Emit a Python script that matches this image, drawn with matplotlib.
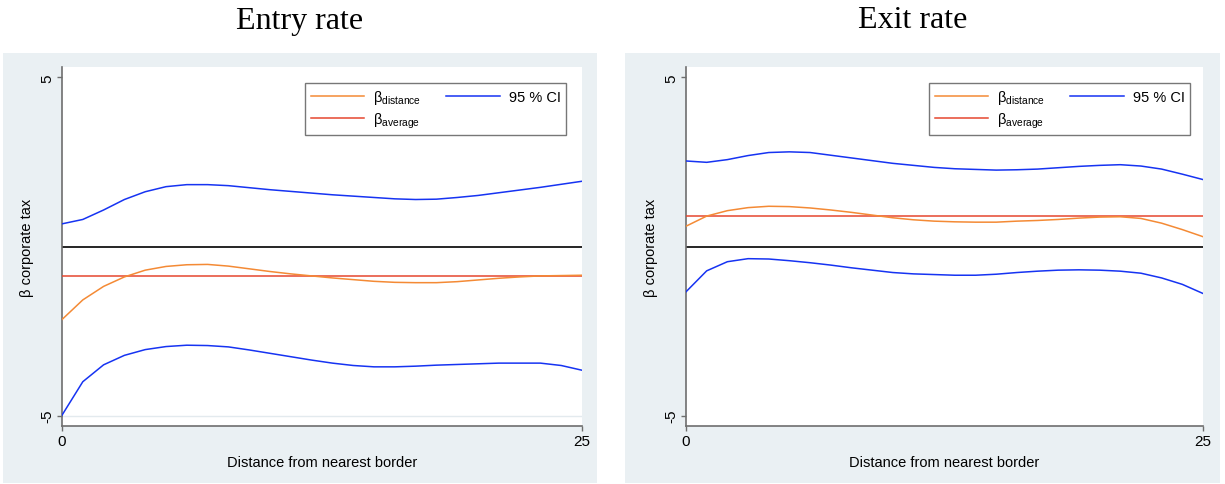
import matplotlib
matplotlib.use("Agg")
import matplotlib.pyplot as plt
from matplotlib.patches import Rectangle
import numpy as np

# ---------------- data ----------------
distance = list(range(0, 26))

entry_upper = [0.67, 0.80, 1.08, 1.39, 1.62, 1.77, 1.83, 1.83, 1.80, 1.74, 1.68, 1.63, 1.58,
               1.53, 1.49, 1.45, 1.41, 1.39, 1.40, 1.45, 1.51, 1.59, 1.67, 1.75, 1.84, 1.93]
entry_beta = [-2.16, -1.58, -1.18, -0.90, -0.70, -0.59, -0.54, -0.53, -0.58, -0.66, -0.74, -0.81, -0.87,
              -0.93, -0.98, -1.03, -1.06, -1.07, -1.07, -1.04, -0.99, -0.94, -0.90, -0.87, -0.86, -0.85]
entry_lower = [-4.99, -4.00, -3.50, -3.22, -3.05, -2.96, -2.92, -2.93, -2.97, -3.06, -3.16, -3.26, -3.36,
               -3.45, -3.52, -3.56, -3.56, -3.54, -3.51, -3.49, -3.47, -3.45, -3.45, -3.45, -3.52, -3.66]
entry_avg = -0.86

exit_upper = [2.53, 2.49, 2.57, 2.69, 2.78, 2.80, 2.78, 2.70, 2.62, 2.54, 2.46, 2.40, 2.34,
              2.30, 2.28, 2.26, 2.27, 2.29, 2.33, 2.37, 2.40, 2.42, 2.38, 2.29, 2.14, 1.98]
exit_beta = [0.60, 0.90, 1.06, 1.15, 1.19, 1.18, 1.14, 1.08, 1.01, 0.93, 0.85, 0.79, 0.75,
             0.73, 0.72, 0.72, 0.75, 0.77, 0.80, 0.84, 0.87, 0.88, 0.83, 0.69, 0.50, 0.29]
exit_lower = [-1.34, -0.72, -0.45, -0.36, -0.37, -0.42, -0.48, -0.55, -0.63, -0.70, -0.77, -0.81, -0.83,
              -0.85, -0.85, -0.82, -0.77, -0.73, -0.70, -0.69, -0.70, -0.73, -0.79, -0.93, -1.12, -1.39]
exit_avg = 0.91

titles = ["Entry rate", "Exit rate"]
xticks = [0, 25]
yticks = [-5, 5]
xlabel = "Distance from nearest border"
ylabel = "β corporate tax"
legend_labels = [r"$\mathrm{\beta_{distance}}$", r"$\mathrm{\beta_{average}}$", "95 % CI"]

# ---------------- style ----------------
plt.rcParams['font.family'] = ['Liberation Sans', 'DejaVu Sans']
plt.rcParams['mathtext.fontset'] = 'custom'
plt.rcParams['mathtext.rm'] = 'Liberation Sans'
plt.rcParams['mathtext.it'] = 'Liberation Sans:italic'
plt.rcParams['mathtext.bf'] = 'Liberation Sans:bold'

C_ORANGE = '#F48A35'
C_RED = '#E5472F'
C_BLUE = '#1633F2'
C_BG = '#EAF0F3'
C_AX = '#6E6E6E'

W, H = 1225, 485
fig = plt.figure(figsize=(W / 100, H / 100), dpi=100)

def fx(px):
    return px / W

def fy(py):
    return 1 - py / H

# panel backgrounds
for x0, x1 in [(3, 597), (625, 1220)]:
    fig.patches.append(Rectangle((fx(x0), fy(484)), fx(x1) - fx(x0), fy(54) - fy(484),
                                 transform=fig.transFigure, facecolor=C_BG, edgecolor='none', zorder=-10))

panels = [
    (62, 582, 300, entry_upper, entry_beta, entry_lower, entry_avg, titles[0], True),
    (686, 1203, 913, exit_upper, exit_beta, exit_lower, exit_avg, titles[1], False),
]

ytop, ybot = 68, 427
for (l, r, tcx, up, beta, lo, avg, title, grid5) in panels:
    ax = fig.add_axes([fx(l), fy(ybot), fx(r) - fx(l), fy(ytop) - fy(ybot)])
    ax.set_zorder(1)
    ax.set_facecolor('white')
    ax.set_xlim(0, 25)
    ax.set_ylim(-5.31, 5.31)
    if grid5:
        ax.axhline(-5, color='#E3EAEE', lw=1.0, zorder=1)
    ax.axhline(0, color='black', lw=1.2, zorder=2)
    ax.axhline(avg, color=C_RED, lw=1.1, zorder=3)
    ax.plot(distance, beta, color=C_ORANGE, lw=1.1, zorder=4)
    ax.plot(distance, up, color=C_BLUE, lw=1.1, zorder=5)
    ax.plot(distance, lo, color=C_BLUE, lw=1.1, zorder=5)

    for s in ['top', 'right']:
        ax.spines[s].set_visible(False)
    for s in ['left', 'bottom']:
        ax.spines[s].set_color(C_AX)
        ax.spines[s].set_linewidth(1.2)
    ax.set_xticks(xticks)
    ax.set_yticks(yticks)
    ax.set_yticklabels([str(v) for v in yticks], rotation=90, va='center')
    ax.tick_params(axis='both', direction='out', length=3.8, width=1, color=C_AX,
                   labelsize=11, labelcolor='black', pad=2)
    ax.set_xlabel(xlabel, fontsize=10.5, labelpad=5)
    ax.set_ylabel(ylabel, fontsize=10.5, labelpad=4)

    handles = [
        plt.Line2D([], [], color=C_ORANGE, lw=1.1),
        plt.Line2D([], [], color=C_RED, lw=1.1),
        plt.Line2D([], [], color=C_BLUE, lw=1.1),
    ]
    lr = 566 if grid5 else 1190
    ax_w = r - l
    leg = ax.legend(handles, legend_labels, ncol=2, loc='upper right',
                    bbox_to_anchor=((lr - l) / ax_w, (ybot - 84) / (ybot - ytop)),
                    borderaxespad=0, frameon=True, fancybox=False, fontsize=10.5,
                    handlelength=3.7, handletextpad=0.6, columnspacing=1.7,
                    labelspacing=0.3, borderpad=0.35)
    leg.get_frame().set_edgecolor('#555555')
    leg.get_frame().set_linewidth(1.0)

    fig.text(fx(tcx), fy(21), title, ha='center', va='center',
             fontsize=23, family=['Liberation Serif', 'DejaVu Serif'])

fig.savefig('out.png', dpi=100)
